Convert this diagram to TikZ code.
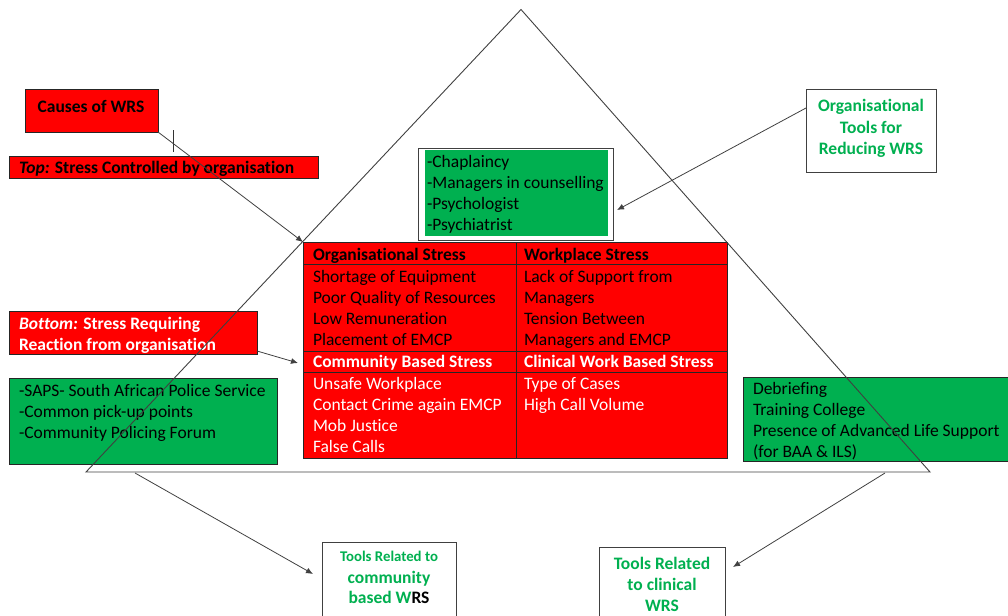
\documentclass[tikz,border=0pt]{standalone}
\usepackage{fontspec}
\setmainfont{Carlito}[Ligatures=NoCommon]
\usetikzlibrary{arrows.meta}
\definecolor{wred}{HTML}{FF0000}
\definecolor{wgreen}{HTML}{00B050}
\definecolor{edgegray}{HTML}{404040}
\newcommand{\fs}{\fontsize{17.5}{21}\selectfont}
\tikzset{
  box/.style={rectangle, inner sep=0pt, outer sep=0pt, anchor=north west, line width=0.8pt},
  redbox/.style={box, fill=wred, draw=black!85},
  greenbox/.style={box, fill=wgreen, draw=black!85},
  whitebox/.style={box, fill=white, draw=black!75},
  txt/.style={inner sep=0pt, outer sep=0pt, anchor=base west, font=\fs},
  btxt/.style={txt, font=\fs\bfseries},
  ctxt/.style={txt, anchor=base, font=\fs\bfseries, text=wgreen},
  arr/.style={draw=edgegray, line width=0.8pt, -{Latex[length=7pt,width=6pt]}},
  tri/.style={draw=edgegray, line width=0.9pt, line join=miter}
}
\begin{document}
\begin{tikzpicture}[x=1pt,y=-1pt]
\useasboundingbox (0,0) rectangle (1008,615);

% boxes
\node[redbox, minimum width=133pt, minimum height=43pt] (causes) at (25,89) {};
\node[redbox, minimum width=309pt, minimum height=22pt] (topbox) at (9,156) {};
\node[redbox, minimum width=248pt, minimum height=43pt] (bottombox) at (9,311) {};
\node[greenbox, minimum width=268pt, minimum height=86pt] (greenL) at (9,378) {};
\node[whitebox, minimum width=195pt, minimum height=92pt] (chapout) at (418,148) {};
\node[box, fill=wgreen, minimum width=183pt, minimum height=86pt] (chapin) at (425,149.5) {};
\node[redbox, minimum width=424pt, minimum height=216pt] (table) at (303,242) {};
\node[whitebox, minimum width=130pt, minimum height=83pt] (orgtools) at (806,89) {};
\node[greenbox, minimum width=280pt, minimum height=84pt] (greenR) at (743,377) {};
\node[whitebox, minimum width=134pt, minimum height=90pt] (comm) at (322,542) {};
\node[whitebox, minimum width=126pt, minimum height=85pt] (clin) at (599,547) {};

% table grid
\coordinate (r1w) at (303,264); \coordinate (r1e) at (727,264);
\coordinate (r2w) at (303,351); \coordinate (r2e) at (727,351);
\coordinate (r3w) at (303,372); \coordinate (r3e) at (727,372);
\coordinate (ct) at (516,242); \coordinate (cb) at (516,458);
\draw[black!85, line width=0.8pt] (r1w) -- (r1e) (r2w) -- (r2e) (r3w) -- (r3e) (ct) -- (cb);

% texts
\node[btxt, anchor=base] (causesT) at (91,113) {Causes of WRS};
\node[btxt] (topT) at (19,173) {\textit{Top:} Stress Controlled by organisation};
\node[btxt, text=white] (botT1) at (19,329) {\textit{Bottom:} Stress Requiring};
\node[btxt, text=white] (botT2) at (19,350) {Reaction from organisation};

\foreach \t [count=\i] in {-SAPS- South African Police Service,-Common pick-up points,-Community Policing Forum}
  \node[txt] (gl\i) at (19,{396+21*(\i-1)}) {\t};

\foreach \t [count=\i] in {-Chaplaincy,-Managers in counselling,-Psychologist,-Psychiatrist}
  \node[txt] (ch\i) at (427,{167+21.2*(\i-1)}) {\t};

\node[btxt] (hOrg) at (313,260) {Organisational Stress};
\node[btxt] (hWork) at (524,260) {Workplace Stress};
\foreach \t [count=\i] in {Shortage of Equipment,Poor Quality of Resources,Low Remuneration,Placement of EMCP}
  \node[txt] (os\i) at (313,{282+21.3*(\i-1)}) {\t};
\foreach \t [count=\i] in {Lack of Support from,Managers,Tension Between,Managers and EMCP}
  \node[txt] (ws\i) at (524,{282+21.3*(\i-1)}) {\t};
\node[btxt, text=white] (hComm) at (313,367) {Community Based Stress};
\node[btxt, text=white] (hClin) at (524,367) {Clinical Work Based Stress};
\foreach \t [count=\i] in {Unsafe Workplace,Contact Crime again EMCP,Mob Justice,False Calls}
  \node[txt, text=white] (cs\i) at (313,{389+21.3*(\i-1)}) {\t};
\foreach \t [count=\i] in {Type of Cases,High Call Volume}
  \node[txt, text=white] (cl\i) at (524,{389+21.3*(\i-1)}) {\t};

\foreach \t [count=\i] in {Organisational,Tools for,Reducing WRS}
  \node[ctxt] (ot\i) at (871,{112+21*(\i-1)}) {\t};

\foreach \t [count=\i] in {Debriefing,Training College,Presence of Advanced Life Support,(for BAA \& ILS)}
  \node[txt] (gr\i) at (753,{394+21.3*(\i-1)}) {\t};

\node[ctxt, font=\fontsize{14.8}{18}\selectfont\bfseries] (cm1) at (389,561) {Tools Related to};
\node[ctxt] (cm2) at (389,583) {community};
\node[ctxt] (cm3) at (389,603) {based W\textcolor{black}{RS}};

\node[ctxt] (cn1) at (662,569) {Tools Related};
\node[ctxt] (cn2) at (662,590) {to clinical};
\node[ctxt] (cn3) at (662,611) {WRS};

% triangle
\coordinate (apex) at (521,9.5);
\coordinate (bl) at (86,472);
\coordinate (br) at (930,472);
\draw[tri] (apex) -- (bl) -- (br) -- cycle;

% small mark
\coordinate (mk1) at (173,130);
\coordinate (mk2) at (173,152);
\draw[black!80, line width=0.8pt] (mk1) -- (mk2);

% arrows
\coordinate (botStart) at (257,351);
\coordinate (botTip) at (298,363);
\coordinate (otStart) at (806,108);
\coordinate (otTip) at (617,210);
\coordinate (lStart) at (135,473);
\coordinate (lTip) at (313,574);
\coordinate (rStart) at (885,473);
\coordinate (rTip) at (733,567);
\draw[arr] (causes.south east) -- (table.north west);
\draw[arr] (botStart) -- (botTip);
\draw[arr] (otStart) -- (otTip);
\draw[arr] (lStart) -- (lTip);
\draw[arr] (rStart) -- (rTip);
\end{tikzpicture}
\end{document}
